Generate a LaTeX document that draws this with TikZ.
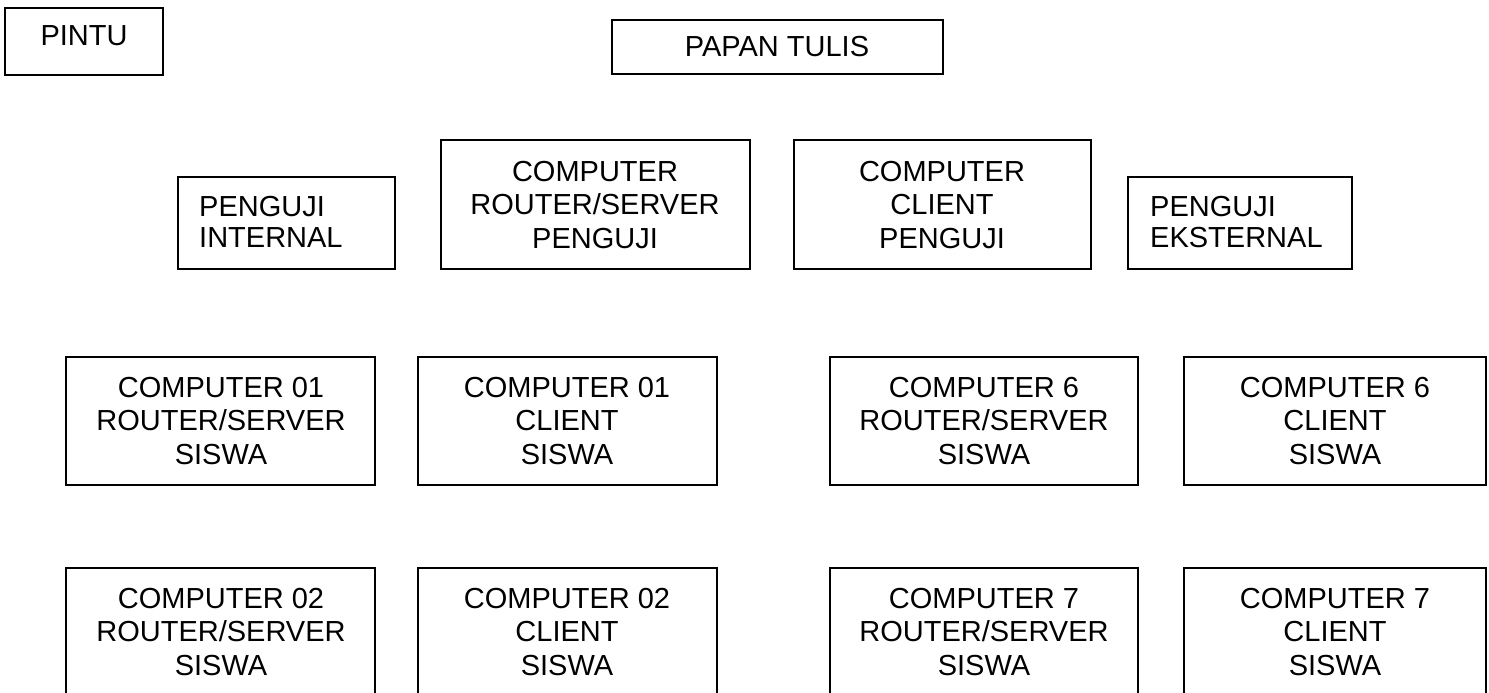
\documentclass[tikz,border=0pt]{standalone}
\usepackage{fontspec}
\setmainfont{Liberation Sans}
\begin{document}
\begin{tikzpicture}[x=1pt,y=-1pt,
  boxstyle/.style={draw=black,line width=1.3pt},
  txt/.style={align=center,inner sep=0pt,font=\fontsize{29}{33.5}\selectfont},
  ltxt/.style={align=left,inner sep=0pt,anchor=west,font=\fontsize{29}{31}\selectfont}]
\useasboundingbox (0,0) rectangle (1489,693);
\clip (0,0) rectangle (1489,693);
% boxes
\draw[boxstyle] (5,8) rectangle (163,75);
\draw[boxstyle] (612,20) rectangle (943,74);
\draw[boxstyle] (178,177) rectangle (395,269);
\draw[boxstyle] (441,140) rectangle (750,269);
\draw[boxstyle] (794,140) rectangle (1091,269);
\draw[boxstyle] (1128,177) rectangle (1352,269);
\draw[boxstyle] (66,357) rectangle (375,485);
\draw[boxstyle] (418,357) rectangle (717,485);
\draw[boxstyle] (830,357) rectangle (1138,485);
\draw[boxstyle] (1184,357) rectangle (1486,485);
\draw[boxstyle] (66,568) rectangle (375,720);
\draw[boxstyle] (418,568) rectangle (717,720);
\draw[boxstyle] (830,568) rectangle (1138,720);
\draw[boxstyle] (1184,568) rectangle (1486,720);
% texts
\node[txt] (pintu) at (84,36) {PINTU};
\node[txt] (papan) at (777,47) {PAPAN TULIS};
\node[ltxt] (pint) at (199,222) {PENGUJI\\INTERNAL};
\node[txt] (crsp) at (595,205) {COMPUTER\\ROUTER/SERVER\\PENGUJI};
\node[txt] (ccp) at (942,205) {COMPUTER\\CLIENT\\PENGUJI};
\node[ltxt] (peks) at (1150,222) {PENGUJI\\EKSTERNAL};
\node[txt] (a1) at (221,421) {COMPUTER 01\\ROUTER/SERVER\\SISWA};
\node[txt] (b1) at (567,421) {COMPUTER 01\\CLIENT\\SISWA};
\node[txt] (c1) at (984,421) {COMPUTER 6\\ROUTER/SERVER\\SISWA};
\node[txt] (d1) at (1335,421) {COMPUTER 6\\CLIENT\\SISWA};
\node[txt] (a2) at (221,632) {COMPUTER 02\\ROUTER/SERVER\\SISWA};
\node[txt] (b2) at (567,632) {COMPUTER 02\\CLIENT\\SISWA};
\node[txt] (c2) at (984,632) {COMPUTER 7\\ROUTER/SERVER\\SISWA};
\node[txt] (d2) at (1335,632) {COMPUTER 7\\CLIENT\\SISWA};
\end{tikzpicture}
\end{document}
